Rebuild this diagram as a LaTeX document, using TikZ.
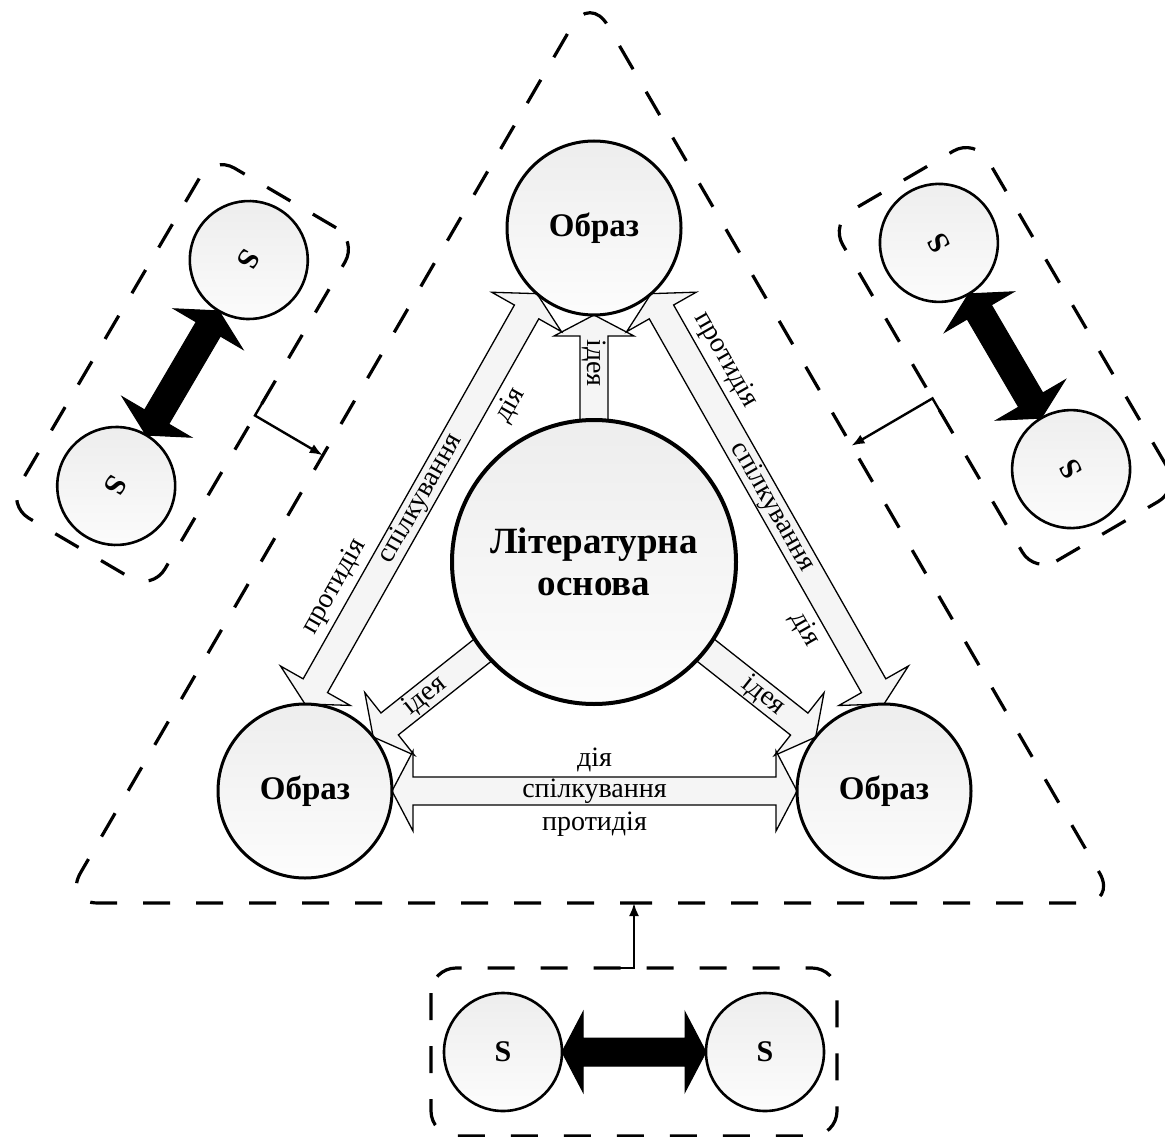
\documentclass[tikz,border=0pt]{standalone}
\usepackage{fontspec}
\setmainfont{Liberation Serif}
\usetikzlibrary{calc,arrows.meta}
\pgfdeclarelayer{bg}
\pgfsetlayers{bg,main}
\newcommand{\BlockDouble}[3]{%
  \path (#2) coordinate (bdA) (#3) coordinate (bdB);
  \coordinate (bdHa) at ($(bdA)!21pt!(bdB)$);
  \coordinate (bdHb) at ($(bdB)!21pt!(bdA)$);
  \draw[#1] (bdA) -- ($(bdHa)!40pt!90:(bdB)$) -- ($(bdHa)!14pt!90:(bdB)$)
    -- ($(bdHb)!14pt!-90:(bdA)$) -- ($(bdHb)!40pt!-90:(bdA)$) -- (bdB)
    -- ($(bdHb)!40pt!90:(bdA)$) -- ($(bdHb)!14pt!90:(bdA)$)
    -- ($(bdHa)!14pt!-90:(bdB)$) -- ($(bdHa)!40pt!-90:(bdB)$) -- cycle;}
\newcommand{\BlockSingle}[3]{%
  \path (#2) coordinate (bsA) (#3) coordinate (bsB);
  \coordinate (bsHb) at ($(bsB)!21pt!(bsA)$);
  \draw[#1] ($(bsA)!14pt!90:(bsB)$) -- ($(bsHb)!14pt!-90:(bsA)$)
    -- ($(bsHb)!40pt!-90:(bsA)$) -- (bsB) -- ($(bsHb)!40pt!90:(bsA)$)
    -- ($(bsHb)!14pt!90:(bsA)$) -- ($(bsA)!14pt!-90:(bsB)$) -- cycle;}
\begin{document}
\begin{tikzpicture}[x=1pt,y=-1pt,
  dsh/.style={line width=3.2pt, dash pattern=on 27pt off 26pt},
  obraz/.style={circle, draw, line width=3pt, minimum size=174pt, inner sep=0pt, outer sep=0pt,
     top color=black!7, bottom color=black!1, font=\fontsize{33}{37}\selectfont\bfseries},
  litc/.style={obraz, line width=4pt, minimum size=284pt, align=center,
     font=\fontsize{37}{42}\selectfont\bfseries},
  scirc/.style={obraz, line width=2.6pt, minimum size=118pt,
     font=\fontsize{30}{34}\selectfont\bfseries, transform shape},
  lab/.style={font=\fontsize{28}{32}\selectfont, inner sep=0pt},
  barrow/.style={draw=black, line width=1.3pt, fill=black!4, line join=miter, miter limit=10},
  sarrow/.style={draw=black, line width=1pt, fill=black, line join=miter, miter limit=10},
  conn/.style={line width=2.4pt, -{Latex[length=13pt,width=10pt]}}]
\useasboundingbox (0,0) rectangle (1165,1137);

% big dashed triangle
\draw[dsh, rounded corners=35pt] (590,903) -- (1117,903) -- (590,-5) -- (63,903) -- cycle;

% main circles
\node[obraz] (obt) at (594,228) {Образ};
\node[obraz] (obl) at (305,791) {Образ};
\node[obraz] (obr) at (884,791) {Образ};
\node[litc] (lit) at (594,562) {Літературна\\основа};

% block arrows
\begin{pgfonlayer}{bg}
\BlockSingle{barrow}{lit.north}{obt.south}
\BlockSingle{barrow}{$(lit.center)!142pt!(obl.center)$}{$(obl.center)!87pt!(lit.center)$}
\BlockSingle{barrow}{$(lit.center)!142pt!(obr.center)$}{$(obr.center)!87pt!(lit.center)$}
\BlockDouble{barrow}{obl.north}{obt.229}
\BlockDouble{barrow}{obr.north}{obt.311}
\BlockDouble{barrow}{obl.east}{obr.west}
\end{pgfonlayer}

% labels
\node[lab, rotate=-90] (ida) at ($(lit.center)!199pt!(obt.center)$) {ідея};
\node[lab, rotate=38.4] (idb) at ($(lit.center)!216pt!(obl.center)$) {ідея};
\node[lab, rotate=-38.4] (idc) at ($(lit.center)!216pt!(obr.center)$) {ідея};

\node[lab, rotate=60.5] (la) at ($(obl.north)!0.247!(obt.229)!32pt!90:(obt.229)$) {протидія};
\node[lab, rotate=60.5] (lb) at ($(obl.north)!0.5!(obt.229)$) {спілкування};
\node[lab, rotate=60.5] (lc) at ($(obl.north)!0.766!(obt.229)!32pt!-90:(obt.229)$) {дія};

\node[lab, rotate=-60.3] (ra) at ($(obr.north)!0.80!(obt.311)!32pt!-90:(obt.311)$) {протидія};
\node[lab, rotate=-60.3] (rb) at ($(obr.north)!0.48!(obt.311)$) {спілкування};
\node[lab, rotate=-60.3] (rc) at ($(obr.north)!0.22!(obt.311)!32pt!90:(obt.311)$) {дія};

\node[lab] (ba) at ($(obl.east)!0.5!(obr.west)+(0,-31)$) {дія};
\node[lab] (bb) at ($(obl.east)!0.5!(obr.west)$) {спілкування};
\node[lab] (bc) at ($(obl.east)!0.5!(obr.west)+(0,33)$) {протидія};

% bottom S group
\begin{scope}[shift={(634,1052)}]
  \node[scirc] (b1) at (-131,0) {S};
  \node[scirc] (b2) at (131,0) {S};
  \draw[dsh, rounded corners=25pt] (-203,-84) rectangle (203,84);
  \coordinate (bj) at (-25,-84);
  \coordinate (bm) at (0,-84);
  \coordinate (be) at (0,-149);
\end{scope}
% left S group
\begin{scope}[shift={(182.5,373)}, rotate=-120.4]
  \node[scirc] (l1) at (-131,0) {S};
  \node[scirc] (l2) at (131,0) {S};
  \draw[dsh, rounded corners=25pt] (-203,-84) rectangle (203,84);
  \coordinate (lj) at (-25,-84);
  \coordinate (lm) at (0,-84);
  \coordinate (le) at (0,-162.6);
\end{scope}
% right S group
\begin{scope}[shift={(1005,356)}, rotate=120.3]
  \node[scirc] (r1) at (-131,0) {S};
  \node[scirc] (r2) at (131,0) {S};
  \draw[dsh, rounded corners=25pt] (-203,-84) rectangle (203,84);
  \coordinate (rj) at (-25,-84);
  \coordinate (rm) at (0,-84);
  \coordinate (re) at (0,-177.8);
\end{scope}

\BlockDouble{sarrow}{b1.east}{b2.west}
\BlockDouble{sarrow}{l1.east}{l2.west}
\BlockDouble{sarrow}{r1.east}{r2.west}

\draw[conn] (bj) -- (bm) -- (be);
\draw[conn] (lj) -- (lm) -- (le);
\draw[conn] (rj) -- (rm) -- (re);
\end{tikzpicture}
\end{document}
